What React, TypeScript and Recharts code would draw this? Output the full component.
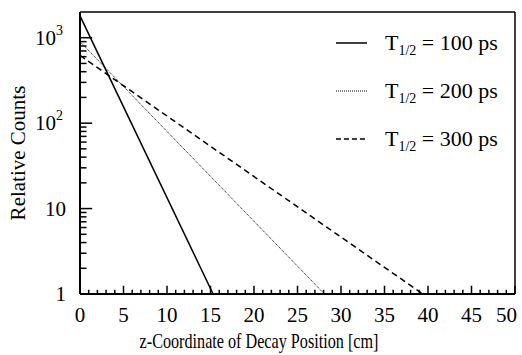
import React from "react";
import { Legend, Line, LineChart, ReferenceLine, XAxis, YAxis } from "recharts";

// decay distributions along z, one per half-life (straight on a log axis)
const halfLives = ["100", "200", "300"];
const counts100 = [
  { z: 0, counts: 1800 },
  { z: 15.3, counts: 1 },
];
const counts200 = [
  { z: 0, counts: 900 },
  { z: 28.1, counts: 1 },
];
const counts300 = [
  { z: 0, counts: 620 },
  { z: 39.4, counts: 1 },
];

const xMajorTicks = [0, 5, 10, 15, 20, 25, 30, 35, 40, 45, 50];
const xMinorTicks = Array.from({ length: 51 }, (_, i) => i).filter((v) => v % 5 !== 0);
const yMajorTicks = [1, 10, 100, 1000];
const yMinorTicks = [
  2, 3, 4, 5, 6, 7, 8, 9, 20, 30, 40, 50, 60, 70, 80, 90, 200, 300, 400, 500,
  600, 700, 800, 900,
];
const yTickLabels: { [key: number]: [string, string] } = {
  1: ["1", ""],
  10: ["10", ""],
  100: ["10", "2"],
  1000: ["10", "3"],
};

const serif = '"Liberation Serif", "DejaVu Serif", serif';
const axisStroke = { stroke: "#000", strokeWidth: 2 };

// inward tick lengths, in data units (x: cm, y: factor on the log axis)
const yTickLen = { major: 1.4, minor: 0.75 };
const xTickLen = { major: 1.25, minor: 1.12 };

const series = [
  { data: counts100, dash: undefined, width: 1.5, legendDash: undefined },
  { data: counts200, dash: "1 1", width: 1, legendDash: "1 1" },
  { data: counts300, dash: "6 4", width: 1.5, legendDash: "5 3" },
];

const YLabel = (props: any) => {
  const { x, y, payload } = props;
  const label = yTickLabels[payload.value];
  if (!label) return null;
  return (
    <text
      x={label[1] ? x - 3 : x}
      y={y}
      dy={7}
      textAnchor="end"
      fontSize={21}
      fontFamily={serif}
      fill="#000"
    >
      {label[0]}
      {label[1] && (
        <tspan dy={-10} fontSize={14}>
          {label[1]}
        </tspan>
      )}
    </text>
  );
};

const XLabel = (props: any) => {
  const { x, y, payload } = props;
  const last = payload.value === 50;
  return (
    <text
      x={last ? x + 2 : x}
      y={y}
      textAnchor={last ? "end" : "middle"}
      fontSize={21}
      fontFamily={serif}
      fill="#000"
    >
      {payload.value}
    </text>
  );
};

const DecayLegend = () => (
  <svg width={190} height={140} style={{ display: "block" }}>
    {series.map((s, i) => {
      const rowY = 23 + i * 48;
      return (
        <g key={i}>
          <line
            x1={6}
            x2={37}
            y1={rowY}
            y2={rowY}
            stroke="#000"
            strokeWidth={s.width}
            strokeDasharray={s.legendDash}
          />
          <text x={55} y={rowY + 7} fontSize={22} fontFamily={serif} fill="#000">
            T
            <tspan dy={5} fontSize={14}>
              1/2
            </tspan>
            <tspan dy={-5}>{` = ${halfLives[i]} ps`}</tspan>
          </text>
        </g>
      );
    })}
  </svg>
);

const yTickMarks = [
  ...yMajorTicks.map((v) => ({ v, len: yTickLen.major })),
  ...yMinorTicks.map((v) => ({ v, len: yTickLen.minor })),
];
const xTickMarks = [
  ...xMajorTicks.map((v) => ({ v, len: xTickLen.major })),
  ...xMinorTicks.map((v) => ({ v, len: xTickLen.minor })),
];

export default function App() {
  return (
    <div style={{ position: "absolute", left: 0, top: 0, background: "#fff" }}>
      <LineChart width={522} height={355} margin={{ top: 12, right: 7, left: 0, bottom: 0 }}>
        <XAxis
          type="number"
          dataKey="z"
          domain={[0, 50]}
          ticks={xMajorTicks}
          interval={0}
          tickSize={0}
          tickMargin={28}
          tickLine={false}
          tick={<XLabel />}
          height={61}
          allowDataOverflow
          axisLine={axisStroke}
        />
        <YAxis
          type="number"
          dataKey="counts"
          scale="log"
          domain={[1, 2000]}
          ticks={yMajorTicks}
          interval={0}
          tickSize={0}
          tickMargin={14}
          tickLine={false}
          tick={<YLabel />}
          width={80}
          allowDataOverflow
          axisLine={axisStroke}
        />
        <ReferenceLine y={2000} stroke="#000" strokeWidth={1.5} />
        <ReferenceLine x={50} stroke="#000" strokeWidth={1.5} />
        {/* inward tick marks along the left and bottom axes */}
        {yTickMarks.map((t) => (
          <ReferenceLine
            key={`y${t.v}`}
            segment={[
              { x: 0, y: t.v },
              { x: t.len, y: t.v },
            ]}
            ifOverflow="visible"
            stroke="#000"
            strokeWidth={1.5}
          />
        ))}
        {xTickMarks.map((t) => (
          <ReferenceLine
            key={`x${t.v}`}
            segment={[
              { x: t.v, y: 1 },
              { x: t.v, y: t.len },
            ]}
            ifOverflow="visible"
            stroke="#000"
            strokeWidth={1.5}
          />
        ))}
        {series.map((s, i) => (
          <Line
            key={i}
            data={s.data}
            dataKey="counts"
            name={`T1/2 = ${halfLives[i]} ps`}
            type="linear"
            stroke="#000"
            strokeWidth={s.width}
            strokeDasharray={s.dash}
            dot={false}
            activeDot={false}
            isAnimationActive={false}
          />
        ))}
        <Legend
          layout="horizontal"
          verticalAlign="middle"
          align="center"
          content={() => <DecayLegend />}
          wrapperStyle={{ position: "absolute", left: 330, top: 20, width: 190, height: 140 }}
        />
        <text
          x={259}
          y={348}
          textAnchor="middle"
          fontSize={21}
          fontFamily={serif}
          fill="#000"
          transform="translate(259 348) scale(0.77 1) translate(-259 -348)"
        >
          z-Coordinate of Decay Position [cm]
        </text>
        <text
          x={25}
          y={153}
          textAnchor="middle"
          fontSize={21}
          fontFamily={serif}
          fill="#000"
          transform="rotate(-90 25 153)"
        >
          Relative Counts
        </text>
      </LineChart>
    </div>
  );
}
